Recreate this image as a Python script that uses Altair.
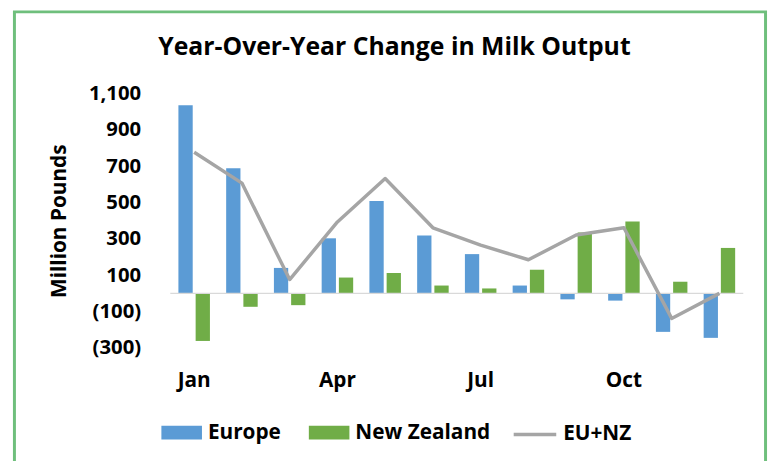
import altair as alt
import pandas as pd

months = ["Jan", "Feb", "Mar", "Apr", "May", "Jun", "Jul", "Aug", "Sep", "Oct", "Nov", "Dec"]
europe = [1035, 688, 140, 303, 509, 319, 216, 43, -33, -40, -212, -245]
new_zealand = [-262, -74, -65, 87, 112, 43, 27, 130, 335, 395, 64, 250]
eu_nz = [777, 607, 76, 393, 632, 361, 266, 185, 321, 361, -138, 0]
bar_series = ["Europe", "New Zealand"]
bar_colors = ["#5b9bd5", "#70ad47"]
line_series = ["EU+NZ"]
line_colors = ["#a5a5a5"]
shown_months = ["Jan", "Apr", "Jul", "Oct"]
y_ticks = [-300, -100, 100, 300, 500, 700, 900, 1100]

bars_df = pd.DataFrame(
    [{"month": m, "series": "Europe", "value": v} for m, v in zip(months, europe)]
    + [{"month": m, "series": "New Zealand", "value": v} for m, v in zip(months, new_zealand)]
)
line_df = pd.DataFrame({"month": months, "line": "EU+NZ", "value": eu_nz})

FONT = "Open Sans"
W, H = 579, 257

x_axis = alt.Axis(
    title=None, domain=False, ticks=False, tickSize=0, grid=False,
    labelExpr="indexof(" + str(shown_months) + ", datum.value) >= 0 ? datum.value : ''",
    labelAngle=0, labelFont=FONT, labelFontSize=21, labelFontWeight="bold",
    labelColor="black", labelPadding=22, labelOverlap=False,
)
y_axis = alt.Axis(
    values=y_ticks, domain=False, ticks=False, tickSize=0, grid=False,
    labelExpr="datum.value < 0 ? '(' + format(-datum.value, ',') + ')' : format(datum.value, ',')",
    labelFont=FONT, labelFontSize=20.5, labelFontWeight="bold", labelColor="black",
    labelPadding=30, labelOverlap=False, labelFlush=False,
    title="Million Pounds", titleFont=FONT, titleFontSize=21, titleFontWeight="bold",
    titleColor="black", titleX=-112, titleY=H / 2, titleAngle=-90,
    titleAlign="center", titleBaseline="middle",
)
x_scale = alt.Scale(paddingInner=0.34, paddingOuter=0.17)
y_scale = alt.Scale(domain=[-300, 1100], nice=False, zero=False)

bars = alt.Chart(bars_df).mark_bar().encode(
    x=alt.X("month:N", sort=months, scale=x_scale, axis=x_axis),
    xOffset=alt.XOffset("series:N", sort=bar_series, scale=alt.Scale(paddingInner=0.17, paddingOuter=0)),
    y=alt.Y("value:Q", scale=y_scale, axis=y_axis),
    fill=alt.Fill(
        "series:N",
        scale=alt.Scale(domain=bar_series, range=bar_colors),
        legend=alt.Legend(
            orient="none", legendX=-9, legendY=322, direction="horizontal", title=None,
            symbolType="M-1,-0.34H1V0.34H-1Z", symbolSize=1681, symbolStrokeWidth=0,
            symbolOpacity=1, labelFont=FONT, labelFontSize=21, labelFontWeight="bold",
            labelColor="black", labelOffset=6, columnPadding=28, padding=0,
        ),
    ),
)

zero_rule = alt.Chart(pd.DataFrame({"v": [0]})).mark_rule(
    color="#d9d9d9", strokeWidth=1.2
).encode(y=alt.Y("v:Q", scale=y_scale, axis=y_axis))

line = alt.Chart(line_df).mark_line(strokeWidth=3.5, strokeJoin="round").encode(
    x=alt.X("month:N", sort=months, scale=x_scale, axis=x_axis),
    y=alt.Y("value:Q", scale=y_scale, axis=y_axis),
    stroke=alt.Stroke(
        "line:N",
        scale=alt.Scale(domain=line_series, range=line_colors),
        legend=alt.Legend(
            orient="none", legendX=345, legendY=321, direction="horizontal", title=None,
            symbolType="M-1,0H1", symbolSize=1849, symbolStrokeWidth=3.5,
            labelFont=FONT, labelFontSize=21, labelFontWeight="bold",
            labelColor="black", labelOffset=5, padding=0,
        ),
    ),
)

frame = alt.Chart(pd.DataFrame({"f": [0]})).mark_rect(
    fill="transparent", stroke="#6fbf7c", strokeWidth=3
).encode(
    x=alt.value(-157.5), x2=alt.value(601.5), y=alt.value(-82.5), y2=alt.value(380)
)

chart = alt.layer(bars, zero_rule, line, frame).properties(
    width=W, height=H,
    title=alt.TitleParams(
        "Year-Over-Year Change in Milk Output", font=FONT, fontSize=25,
        fontWeight="bold", color="black", anchor="middle", dx=-63, dy=50, offset=0,
    ),
    autosize=alt.AutoSizeParams(type="none"),
    padding={"left": 164, "top": 84, "right": 27, "bottom": 120},
    background="white",
).configure_view(stroke=None).configure_axis(labelOverlap=False)

chart.save("out.html", embed_options={"renderer": "svg", "actions": False})
